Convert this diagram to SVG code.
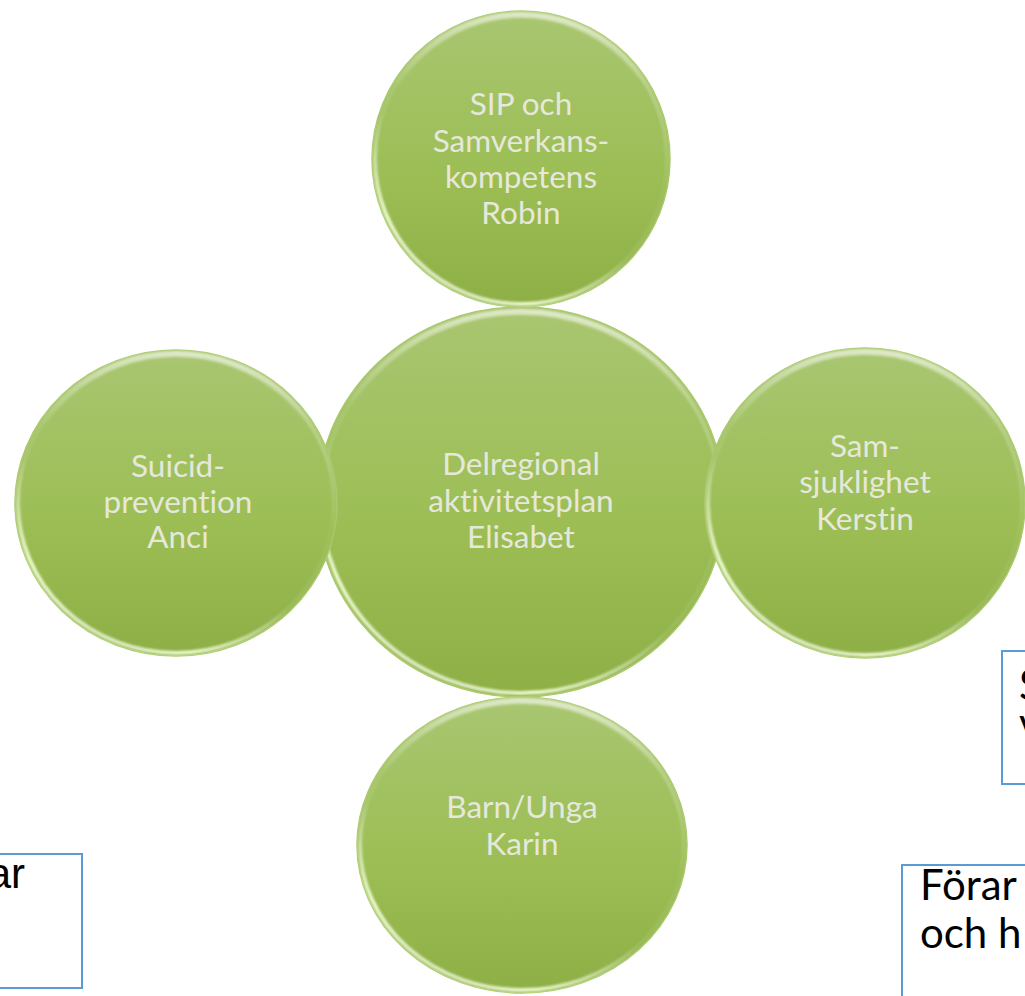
<svg xmlns="http://www.w3.org/2000/svg" width="1025" height="996" viewBox="0 0 1025 996">
  <defs>
    <linearGradient id="fillG" x1="0" y1="0" x2="0" y2="1">
      <stop offset="0" stop-color="#a9c671"/>
      <stop offset="0.55" stop-color="#9cbe55"/>
      <stop offset="1" stop-color="#8daf46"/>
    </linearGradient>
    <linearGradient id="rimG" x1="0.8" y1="0" x2="0.2" y2="1">
      <stop offset="0" stop-color="#ffffff" stop-opacity="0.35"/>
      <stop offset="0.35" stop-color="#ffffff" stop-opacity="0.05"/>
      <stop offset="0.6" stop-color="#ffffff" stop-opacity="0.1"/>
      <stop offset="0.85" stop-color="#f4ffd8" stop-opacity="0.9"/>
      <stop offset="1" stop-color="#ffffff" stop-opacity="0.55"/>
    </linearGradient>
    <linearGradient id="topRimG" x1="0" y1="0" x2="0" y2="1">
      <stop offset="0" stop-color="#ffffff" stop-opacity="0.5"/>
      <stop offset="0.25" stop-color="#ffffff" stop-opacity="0"/>
      <stop offset="1" stop-color="#ffffff" stop-opacity="0"/>
    </linearGradient>
    <filter id="soft" x="-10%" y="-10%" width="120%" height="120%">
      <feGaussianBlur stdDeviation="1.2"/>
    </filter>
  </defs>
  <style>
    .base { fill: url(#fillG); stroke: #a8c86a; stroke-width: 1.5; }
    .rim { fill: none; stroke: url(#rimG); stroke-width: 4; filter: url(#soft); }
    .toprim { fill: none; stroke: url(#topRimG); stroke-width: 6; filter: url(#soft); }
    .lbl { font-family: Lato, "Noto Sans", sans-serif; font-size: 31.5px; fill: #e6e8dc; text-anchor: middle; font-variant-ligatures: none; }
    .box { fill: #ffffff; stroke: #5b9bd5; stroke-width: 2; }
    .btxt { font-family: Lato, "Noto Sans", sans-serif; font-size: 42px; fill: #000000; font-variant-ligatures: none; }
    .atxt { font-family: "Liberation Sans", Arial, sans-serif; font-size: 42px; fill: #000000; }
  </style>
  <rect width="1025" height="996" fill="#ffffff"/>

  <g id="box-left">
    <rect class="box" x="-10" y="854" width="92" height="134"/>
    <text class="atxt" x="25" y="888" text-anchor="end">ar</text>
  </g>
  <g id="box-right-upper">
    <rect class="box" x="1002" y="651" width="40" height="133"/>
    <text class="btxt" x="1019" y="700">S</text>
    <text class="btxt" x="1019" y="738">v</text>
  </g>
  <g id="box-right-lower">
    <rect class="box" x="902" y="865" width="140" height="150"/>
    <text class="btxt" x="920" y="900">Förar</text>
    <text class="btxt" x="920" y="948">och h</text>
  </g>

  <g id="connectors"></g>

  <g id="node-center">
    <ellipse class="base" cx="521" cy="502" rx="204" ry="195"/>
    <ellipse class="toprim" cx="521" cy="502" rx="199" ry="190"/>
    <ellipse class="rim" cx="521" cy="502" rx="200" ry="191"/>
    <text class="lbl" x="521" y="475">Delregional</text>
    <text class="lbl" x="521" y="512">aktivitetsplan</text>
    <text class="lbl" x="521" y="548">Elisabet</text>
  </g>
  <g id="node-top">
    <ellipse class="base" cx="521" cy="159" rx="149" ry="148"/>
    <ellipse class="toprim" cx="521" cy="159" rx="145" ry="144"/>
    <ellipse class="rim" cx="521" cy="159" rx="146" ry="145"/>
    <text class="lbl" x="521" y="115">SIP och</text>
    <text class="lbl" x="521" y="152">Samverkans-</text>
    <text class="lbl" x="521" y="188">kompetens</text>
    <text class="lbl" x="521" y="224">Robin</text>
  </g>
  <g id="node-bottom">
    <ellipse class="base" cx="522" cy="845" rx="165" ry="148"/>
    <ellipse class="toprim" cx="522" cy="845" rx="161" ry="144"/>
    <ellipse class="rim" cx="522" cy="845" rx="162" ry="145"/>
    <text class="lbl" x="522" y="818">Barn/Unga</text>
    <text class="lbl" x="522" y="855">Karin</text>
  </g>
  <g id="node-left">
    <ellipse class="base" cx="176" cy="503" rx="161" ry="153"/>
    <ellipse class="toprim" cx="176" cy="503" rx="157" ry="149"/>
    <ellipse class="rim" cx="176" cy="503" rx="158" ry="150"/>
    <text class="lbl" x="178" y="477">Suicid-</text>
    <text class="lbl" x="178" y="513">prevention</text>
    <text class="lbl" x="178" y="548">Anci</text>
  </g>
  <g id="node-right">
    <ellipse class="base" cx="865" cy="503" rx="160" ry="155"/>
    <ellipse class="toprim" cx="865" cy="503" rx="156" ry="151"/>
    <ellipse class="rim" cx="865" cy="503" rx="157" ry="152"/>
    <text class="lbl" x="865" y="457">Sam-</text>
    <text class="lbl" x="865" y="493">sjuklighet</text>
    <text class="lbl" x="865" y="530">Kerstin</text>
  </g>
</svg>
